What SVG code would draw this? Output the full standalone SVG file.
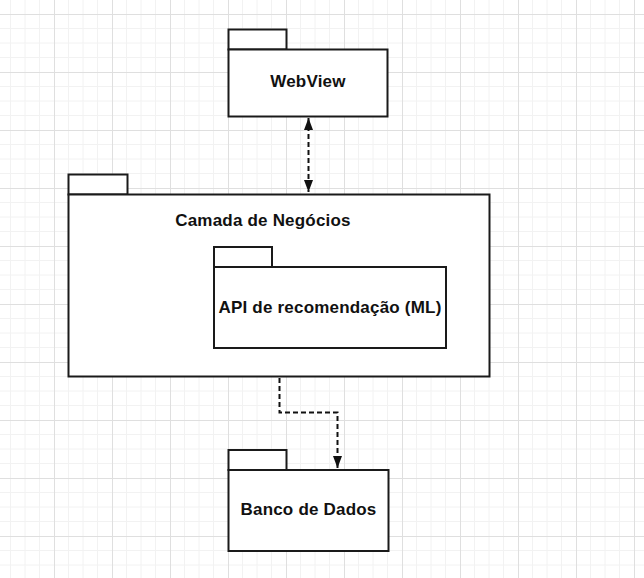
<svg xmlns="http://www.w3.org/2000/svg" width="644" height="578" viewBox="0 0 644 578">
  <style>
    .box { fill: #ffffff; stroke: #1a1a1a; stroke-width: 2; }
    .lbl { font-family: "Liberation Sans", Arial, sans-serif; font-weight: bold; font-size: 17px; fill: #111111; text-anchor: middle; letter-spacing: 0.2px; }
    .conn { fill: none; stroke: #111111; stroke-width: 2; stroke-dasharray: 5 3; }
  </style>
  <defs>
    <pattern id="grid" x="54" y="14" width="58" height="58" patternUnits="userSpaceOnUse">
      <path d="M14.5 0V58M29 0V58M43.5 0V58M0 14.5H58M0 29H58M0 43.5H58" stroke="#f2f2f2" stroke-width="1" fill="none"/>
      <path d="M0.5 0V58M0 0.5H58" stroke="#dfdfdf" stroke-width="1" fill="none"/>
    </pattern>
    <marker id="arr" viewBox="0 0 12 9" refX="12" refY="4.5" markerWidth="12" markerHeight="9" markerUnits="userSpaceOnUse" orient="auto-start-reverse">
      <path d="M0 0L12 4.5L0 9Z" fill="#111111"/>
    </marker>
  </defs>
  <rect width="644" height="578" fill="#ffffff"/>
  <rect width="644" height="578" fill="url(#grid)"/>

  <g id="connectors">
    <path class="conn" d="M308.5 118V192" marker-start="url(#arr)" marker-end="url(#arr)"/>
    <path class="conn" d="M279.5 378V412.5H337.5V468" marker-end="url(#arr)"/>
  </g>

  <g id="webview">
    <rect class="box" x="228.5" y="29.5" width="58" height="20"/>
    <rect class="box" x="228.5" y="49.5" width="159" height="67"/>
    <text class="lbl" x="308" y="87">WebView</text>
  </g>

  <g id="camada-negocios">
    <rect class="box" x="68.5" y="174.5" width="59" height="20"/>
    <rect class="box" x="68.5" y="194.5" width="421" height="182"/>
    <text class="lbl" x="263" y="226">Camada de Negócios</text>
  </g>

  <g id="api-recomendacao">
    <rect class="box" x="214" y="247" width="58" height="20"/>
    <rect class="box" x="214" y="267" width="232" height="81"/>
    <text class="lbl" x="330" y="313">API de recomendação (ML)</text>
  </g>

  <g id="banco-dados">
    <rect class="box" x="228.5" y="450" width="58" height="20"/>
    <rect class="box" x="228.5" y="470" width="160" height="81"/>
    <text class="lbl" x="308.5" y="515">Banco de Dados</text>
  </g>
</svg>
